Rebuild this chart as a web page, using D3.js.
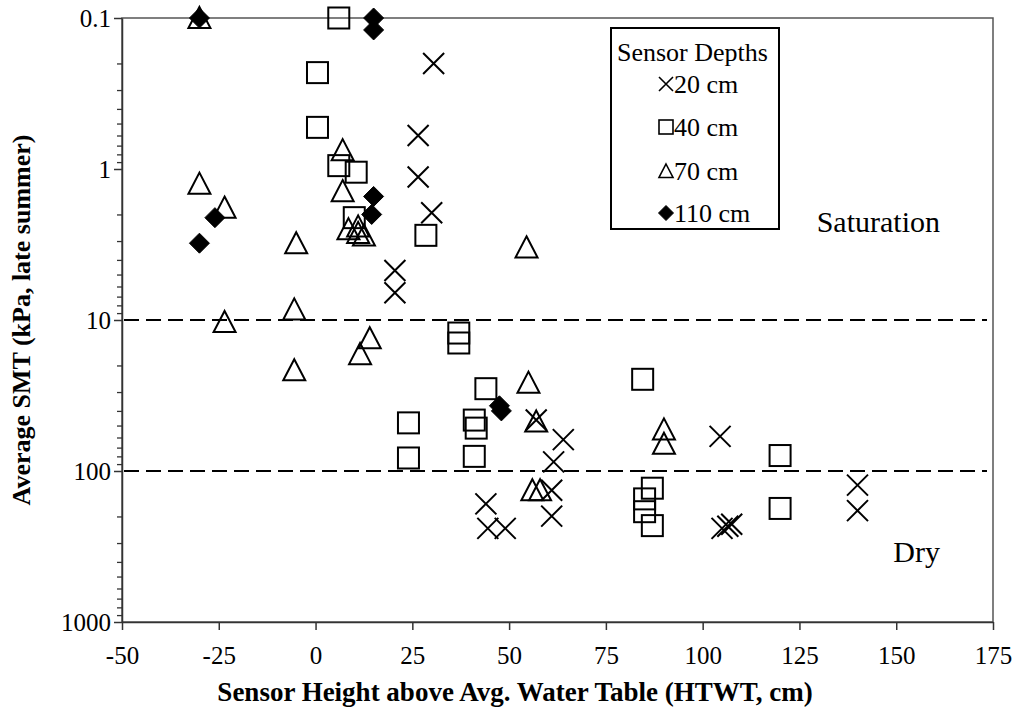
<!DOCTYPE html>
<html>
<head>
<meta charset="utf-8">
<script src="https://cdn.jsdelivr.net/npm/d3@7"></script>
</head>
<body style="margin:0">
<svg id="chart" width="1016" height="710"></svg>
<script>
// Sensor height above average water table (cm) and late-summer average SMT (kPa)
const depth20 = [
  [30.5, 0.2], [26.5, 0.6], [26.5, 1.13], [30, 1.95], [20.5, 4.7], [20.5, 6.6],
  [57, 46], [64, 62], [61.5, 87], [104.5, 59], [61, 134], [61, 199],
  [44, 165], [44.5, 240], [49, 240], [105, 240], [106.5, 232], [107.5, 225],
  [140, 124], [140, 183]
];
const depth40 = [
  [6, 0.1], [0.5, 0.23], [0.5, 0.53], [6, 0.95], [10.5, 1.05], [10, 2.1],
  [28.5, 2.75], [37, 12.2], [37, 14.2], [44, 28.5], [24, 48], [41, 46],
  [41.5, 52], [41, 80], [24, 82], [84.5, 24.7], [87, 130], [85, 153],
  [85, 186], [87, 230], [120, 79], [120, 177]
];
const depth70 = [
  [-30, 0.1], [7, 0.75], [-30, 1.25], [7, 1.4], [-23.5, 1.8], [8.5, 2.5],
  [11, 2.4], [11, 2.65], [12.5, 2.75], [-5, 3.1], [54.5, 3.3], [-5.5, 8.5],
  [-23.5, 10.3], [14, 13.2], [11.5, 16.8], [-5.5, 21.5], [55, 26], [57, 47],
  [56, 134], [58, 134], [90, 53], [90, 66]
];
const depth110 = [
  [-30, 0.1], [15, 0.1], [15, 0.12], [15, 1.52], [-26, 2.1], [14.5, 2.0],
  [-30, 3.1], [47.5, 37], [48, 40]
];
const seriesNames = ["20 cm", "40 cm", "70 cm", "110 cm"];
const xTicks = [-50, -25, 0, 25, 50, 75, 100, 125, 150, 175];
const xTickLabels = ["-50", "-25", "0", "25", "50", "75", "100", "125", "150", "175"];
const yTicks = [0.1, 1, 10, 100, 1000];
const yTickLabels = ["0.1", "1", "10", "100", "1000"];
const thresholds = [10, 100];
const zoneLabels = ["Saturation", "Dry"];

const FONT = "'Liberation Serif'";

const svg = d3.select("#chart");
svg.append("rect").attr("width", 1016).attr("height", 710).attr("fill", "#fff");

const x = d3.scaleLinear().domain([-50, 175]).range([122, 993]);
const y = d3.scaleLog().domain([0.1, 1000]).range([18, 622]);

function label(sel, size, weight) {
  return sel.style("font-family", FONT)
    .style("font-size", size + "px")
    .style("font-weight", weight || "normal")
    .attr("fill", "#000");
}

// plot frame
svg.append("rect")
  .attr("x", x(-50)).attr("y", y(0.1))
  .attr("width", x(175) - x(-50)).attr("height", y(1000) - y(0.1))
  .attr("fill", "none").attr("stroke", "#555").attr("stroke-width", 1.5);

// threshold lines
svg.append("g").selectAll("line").data(thresholds).join("line")
  .attr("x1", x(-50) + 2).attr("x2", x(175) - 6)
  .attr("y1", d => y(d)).attr("y2", d => y(d))
  .attr("stroke", "#000").attr("stroke-width", 2)
  .attr("stroke-dasharray", "15 7");

// minor ticks on the log axis
const minorTicks = [];
[0.1, 1, 10, 100].forEach(dec => { for (let k = 2; k <= 9; k++) minorTicks.push(dec * k); });
const yMinor = svg.append("g").attr("transform", `translate(${x(-50)},0)`)
  .call(d3.axisLeft(y).tickValues(minorTicks).tickSize(5).tickSizeOuter(0).tickFormat(""));
yMinor.select(".domain").remove();
yMinor.selectAll("line").attr("stroke", "#333").attr("stroke-width", 1.3);

const yAxis = svg.append("g").attr("transform", `translate(${x(-50)},0)`)
  .call(d3.axisLeft(y).tickValues(yTicks).tickSize(8).tickSizeOuter(0)
    .tickFormat((d, i) => yTickLabels[i]));
yAxis.attr("font-family", null).attr("font-size", null);
yAxis.select(".domain").attr("stroke", "#333").attr("stroke-width", 1.5);
yAxis.selectAll("line").attr("stroke", "#333").attr("stroke-width", 1.5);
label(yAxis.selectAll("text").attr("x", -11).attr("dy", "0.34em"), 25);

const xAxis = svg.append("g").attr("transform", `translate(0,${y(1000)})`)
  .call(d3.axisBottom(x).tickValues(xTicks).tickSize(8).tickSizeOuter(0)
    .tickFormat((d, i) => xTickLabels[i]));
xAxis.attr("font-family", null).attr("font-size", null);
xAxis.select(".domain").attr("stroke", "#333").attr("stroke-width", 1.5);
xAxis.selectAll("line").attr("stroke", "#333").attr("stroke-width", 1.5);
label(xAxis.selectAll("text").attr("y", 42).attr("dy", 0), 25);

// axis titles
label(svg.append("text")
  .attr("x", 515).attr("y", 701)
  .attr("text-anchor", "middle"), 27, "bold")
  .text("Sensor Height above Avg. Water Table (HTWT, cm)");

label(svg.append("text")
  .attr("transform", "translate(30,320) rotate(-90)")
  .attr("text-anchor", "middle"), 26, "bold")
  .text("Average SMT (kPa, late summer)");

// zone labels
label(svg.append("text").attr("x", 940).attr("y", 232).attr("text-anchor", "end"), 30)
  .text(zoneLabels[0]);
label(svg.append("text").attr("x", 940).attr("y", 562).attr("text-anchor", "end"), 30)
  .text(zoneLabels[1]);

// marker shapes
const markers = [
  { // cross
    draw: (g, s) => g.append("path")
      .attr("d", `M${-s},${-s}L${s},${s}M${-s},${s}L${s},${-s}`)
      .attr("fill", "none").attr("stroke", "#000").attr("stroke-width", 2)
  },
  { // open square
    draw: (g, s) => g.append("rect")
      .attr("x", -s).attr("y", -s).attr("width", 2 * s).attr("height", 2 * s)
      .attr("fill", "none").attr("stroke", "#000").attr("stroke-width", 2)
  },
  { // open triangle
    draw: (g, s) => g.append("path")
      .attr("d", `M0,${-s}L${s},${s * 0.92}L${-s},${s * 0.92}Z`)
      .attr("fill", "none").attr("stroke", "#000").attr("stroke-width", 2)
  },
  { // filled diamond
    draw: (g, s) => g.append("path")
      .attr("d", `M0,${-s}L${s},0L0,${s}L${-s},0Z`)
      .attr("fill", "#000").attr("stroke", "#000").attr("stroke-width", 1)
  }
];
const markerSize = [10.5, 10.5, 11, 10];
const seriesData = [depth20, depth40, depth70, depth110];

seriesData.forEach((data, si) => {
  const g = svg.append("g");
  data.forEach(d => {
    const mg = g.append("g").attr("transform", `translate(${x(d[0])},${y(d[1])})`);
    markers[si].draw(mg, markerSize[si]);
  });
});

// legend
const legend = svg.append("g");
legend.append("rect")
  .attr("x", 611).attr("y", 28).attr("width", 168).attr("height", 201)
  .attr("fill", "#fff").attr("stroke", "#000").attr("stroke-width", 2);
label(legend.append("text").attr("x", 617).attr("y", 61), 26).text("Sensor Depths");
const legendRows = [84, 127, 171, 213];
seriesNames.forEach((name, i) => {
  const mg = legend.append("g").attr("transform", `translate(666,${legendRows[i]})`);
  const m = markers[i].draw(mg, i === 3 ? 7.5 : 7);
  m.attr("stroke-width", i === 3 ? 1 : 1.6);
  label(legend.append("text").attr("x", 674).attr("y", legendRows[i]).attr("dy", "0.35em"), 26)
    .text(name);
});
</script>
</body>
</html>
